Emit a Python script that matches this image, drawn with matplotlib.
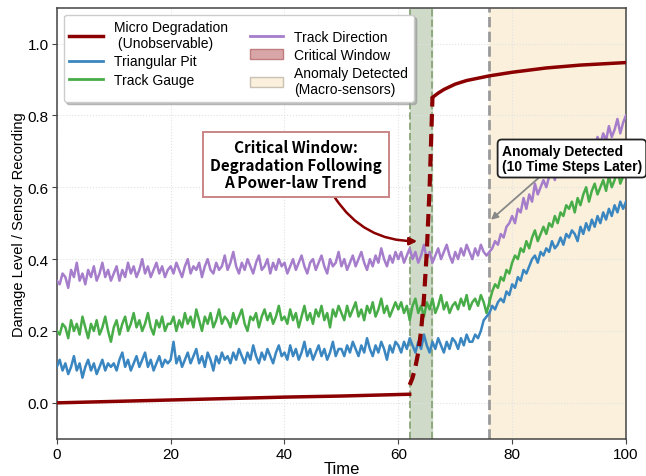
import numpy as np
import matplotlib.pyplot as plt
from matplotlib.patches import Patch
from matplotlib.lines import Line2D

plt.rcParams['font.family'] = ['Liberation Sans', 'DejaVu Sans']

# sensor recordings, one value every 0.5 time steps
track_direction = [
    0.34, 0.33, 0.36, 0.35, 0.32, 0.37, 0.35, 0.39, 0.34, 0.36, 0.33, 0.37, 0.35, 0.38, 0.34, 0.36, 0.39, 0.35, 0.37, 0.34,
    0.36, 0.38, 0.34, 0.37, 0.35, 0.39, 0.36, 0.38, 0.35, 0.37, 0.40, 0.36, 0.38, 0.35, 0.37, 0.39, 0.36, 0.38, 0.35, 0.37,
    0.38, 0.36, 0.39, 0.37, 0.35, 0.38, 0.40, 0.36, 0.38, 0.37, 0.39, 0.35, 0.38, 0.40, 0.37, 0.36, 0.39, 0.37, 0.38, 0.41,
    0.37, 0.39, 0.42, 0.38, 0.36, 0.39, 0.37, 0.40, 0.38, 0.36, 0.39, 0.41, 0.37, 0.38, 0.40, 0.36, 0.39, 0.37, 0.40, 0.38,
    0.39, 0.36, 0.38, 0.40, 0.37, 0.39, 0.41, 0.38, 0.36, 0.39, 0.40, 0.37, 0.39, 0.41, 0.38, 0.36, 0.40, 0.38, 0.39, 0.42,
    0.38, 0.40, 0.37, 0.39, 0.41, 0.38, 0.40, 0.42, 0.39, 0.37, 0.40, 0.38, 0.41, 0.39, 0.43, 0.40, 0.38, 0.41, 0.39, 0.42,
    0.40, 0.42, 0.39, 0.41, 0.43, 0.40, 0.42, 0.39, 0.41, 0.44, 0.40, 0.42, 0.39, 0.41, 0.43, 0.40, 0.42, 0.44, 0.41, 0.39,
    0.42, 0.40, 0.43, 0.41, 0.44, 0.42, 0.40, 0.43, 0.41, 0.44, 0.42, 0.41, 0.42, 0.43, 0.45, 0.44, 0.47, 0.46, 0.49, 0.50,
    0.52, 0.50, 0.54, 0.53, 0.57, 0.54, 0.58, 0.56, 0.61, 0.58, 0.60, 0.62, 0.60, 0.63, 0.65, 0.62, 0.66, 0.64, 0.67, 0.65,
    0.68, 0.66, 0.69, 0.71, 0.68, 0.70, 0.72, 0.69, 0.73, 0.71, 0.74, 0.72, 0.75, 0.73, 0.77, 0.74, 0.76, 0.79, 0.75, 0.78, 0.80,
]
track_gauge = [
    0.20, 0.19, 0.22, 0.21, 0.18, 0.23, 0.20, 0.22, 0.19, 0.24, 0.21, 0.18, 0.22, 0.20, 0.23, 0.19, 0.21, 0.24, 0.20, 0.17,
    0.21, 0.23, 0.19, 0.22, 0.24, 0.20, 0.22, 0.25, 0.21, 0.23, 0.20, 0.22, 0.25, 0.21, 0.19, 0.23, 0.21, 0.24, 0.20, 0.22,
    0.22, 0.24, 0.20, 0.23, 0.21, 0.25, 0.22, 0.24, 0.21, 0.26, 0.23, 0.20, 0.24, 0.22, 0.25, 0.21, 0.23, 0.26, 0.22, 0.24,
    0.23, 0.21, 0.25, 0.22, 0.24, 0.26, 0.22, 0.20, 0.24, 0.23, 0.25, 0.21, 0.24, 0.26, 0.23, 0.25, 0.22, 0.24, 0.27, 0.23,
    0.24, 0.22, 0.26, 0.23, 0.25, 0.21, 0.24, 0.27, 0.23, 0.25, 0.22, 0.26, 0.24, 0.27, 0.23, 0.25, 0.21, 0.26, 0.24, 0.27,
    0.25, 0.23, 0.27, 0.24, 0.26, 0.28, 0.24, 0.26, 0.23, 0.27, 0.25, 0.28, 0.24, 0.26, 0.29, 0.25, 0.27, 0.24, 0.26, 0.28,
    0.26, 0.28, 0.25, 0.27, 0.23, 0.27, 0.29, 0.25, 0.27, 0.24, 0.28, 0.26, 0.29, 0.25, 0.27, 0.30, 0.26, 0.28, 0.25, 0.27,
    0.28, 0.26, 0.29, 0.27, 0.30, 0.26, 0.28, 0.29, 0.27, 0.30, 0.28, 0.25, 0.28, 0.31, 0.33, 0.32, 0.35, 0.34, 0.37, 0.36,
    0.39, 0.41, 0.40, 0.43, 0.42, 0.45, 0.43, 0.46, 0.48, 0.45, 0.47, 0.49, 0.47, 0.50, 0.49, 0.52, 0.50, 0.53, 0.52, 0.55,
    0.54, 0.56, 0.53, 0.57, 0.55, 0.58, 0.60, 0.56, 0.59, 0.61, 0.58, 0.60, 0.62, 0.59, 0.63, 0.60, 0.62, 0.65, 0.61, 0.63, 0.64,
]
triangular_pit = [
    0.10, 0.12, 0.09, 0.11, 0.08, 0.10, 0.13, 0.09, 0.11, 0.07, 0.10, 0.12, 0.09, 0.11, 0.08, 0.10, 0.12, 0.09, 0.11, 0.10,
    0.11, 0.09, 0.12, 0.14, 0.10, 0.12, 0.09, 0.11, 0.13, 0.10, 0.12, 0.14, 0.10, 0.12, 0.09, 0.11, 0.13, 0.10, 0.12, 0.11,
    0.12, 0.17, 0.11, 0.13, 0.10, 0.12, 0.14, 0.11, 0.13, 0.15, 0.11, 0.13, 0.10, 0.14, 0.12, 0.09, 0.13, 0.11, 0.14, 0.12,
    0.13, 0.11, 0.14, 0.12, 0.15, 0.13, 0.11, 0.14, 0.12, 0.16, 0.13, 0.11, 0.14, 0.12, 0.15, 0.13, 0.11, 0.14, 0.16, 0.13,
    0.14, 0.12, 0.16, 0.13, 0.15, 0.12, 0.14, 0.17, 0.13, 0.15, 0.12, 0.14, 0.16, 0.13, 0.15, 0.12, 0.14, 0.17, 0.13, 0.15,
    0.15, 0.13, 0.16, 0.14, 0.17, 0.15, 0.13, 0.16, 0.14, 0.18, 0.15, 0.13, 0.16, 0.14, 0.17, 0.15, 0.12, 0.16, 0.14, 0.17,
    0.16, 0.14, 0.17, 0.15, 0.18, 0.16, 0.14, 0.17, 0.15, 0.19, 0.16, 0.14, 0.17, 0.15, 0.18, 0.16, 0.14, 0.17, 0.15, 0.18,
    0.17, 0.15, 0.18, 0.16, 0.19, 0.17, 0.17, 0.19, 0.18, 0.20, 0.23, 0.24, 0.25, 0.27, 0.26, 0.28, 0.29, 0.28, 0.31, 0.30,
    0.33, 0.32, 0.35, 0.34, 0.37, 0.36, 0.38, 0.40, 0.41, 0.39, 0.42, 0.41, 0.43, 0.42, 0.45, 0.43, 0.44, 0.46, 0.44, 0.47,
    0.46, 0.48, 0.47, 0.45, 0.49, 0.47, 0.50, 0.48, 0.51, 0.49, 0.52, 0.50, 0.53, 0.51, 0.54, 0.52, 0.55, 0.53, 0.56, 0.54, 0.56,
]

# hidden micro degradation curve
micro_t_before = [0, 10, 20, 30, 40, 50, 62]
micro_v_before = [0.0, 0.004, 0.008, 0.012, 0.016, 0.019, 0.024]
micro_t_window = [62, 62.5, 63, 63.5, 64, 64.5, 65, 65.5, 66]
micro_v_window = [0.05, 0.07, 0.10, 0.14, 0.20, 0.29, 0.42, 0.60, 0.85]
micro_t_after = [66, 67, 68, 70, 72, 76, 80, 86, 92, 100]
micro_v_after = [0.85, 0.862, 0.872, 0.887, 0.897, 0.91, 0.92, 0.932, 0.94, 0.947]

window_start, window_end = 62, 66
detect_time = 76

c_micro = '#8b0000'
c_pit = '#3a86c1'
c_gauge = '#48ad48'
c_dir = '#a57dcb'

fig = plt.figure(figsize=(6.46, 4.77), dpi=100)
ax = fig.add_axes([0.088, 0.078, 0.881, 0.904])

ax.axvspan(detect_time, 100, color='#faf0dc', zorder=0)
ax.axvspan(window_start, window_end, color='#cfdac9', zorder=1)
ax.axvline(window_start, color='#8fa97f', ls='--', lw=1.4, zorder=2)
ax.axvline(window_end, color='#8fa97f', ls='--', lw=1.4, zorder=2)
ax.axvline(detect_time, color='#9a9a9a', ls='--', lw=2, zorder=2)

t_dir = np.linspace(0, 100, len(track_direction))
t_gauge = np.linspace(0, 100, len(track_gauge))
t_pit = np.linspace(0, 100, len(triangular_pit))
ax.plot(t_dir, track_direction, color=c_dir, lw=1.8, zorder=3)
ax.plot(t_gauge, track_gauge, color=c_gauge, lw=1.8, zorder=3)
ax.plot(t_pit, triangular_pit, color=c_pit, lw=1.8, zorder=3)

ax.plot(micro_t_before, micro_v_before, color=c_micro, lw=2.5, zorder=4)
ax.plot(micro_t_window, micro_v_window, color=c_micro, lw=3, ls=(0, (3, 1.8)), zorder=4)
ax.plot(micro_t_after, micro_v_after, color=c_micro, lw=2.5, zorder=4)

ax.set_xlim(0, 100)
ax.set_ylim(-0.1, 1.1)
ax.set_xticks([0, 20, 40, 60, 80, 100])
ax.set_yticks([0.0, 0.2, 0.4, 0.6, 0.8, 1.0])
ax.grid(True, color='#e2e2e2', ls=':', lw=0.8, zorder=0)
ax.tick_params(labelsize=11, length=3.5, pad=2.5, color='#444444')
for s in ax.spines.values():
    s.set_color('#444444')
    s.set_linewidth(1.1)
ax.set_xlabel('Time', fontsize=12, labelpad=0)
ax.set_ylabel('Damage Level / Sensor Recording', fontsize=10.5, labelpad=1)

handles = [
    Line2D([], [], color=c_micro, lw=2.5),
    Line2D([], [], color=c_pit, lw=2),
    Line2D([], [], color=c_gauge, lw=2),
    Line2D([], [], color=c_dir, lw=2),
    Patch(facecolor='#d9a6a8', edgecolor='#c07c7e', lw=1),
    Patch(facecolor='#faf0dc', edgecolor='#c9c2b4', lw=1),
]
labels = ['Micro Degradation\n (Unobservable)', 'Triangular Pit', 'Track Gauge',
          'Track Direction', 'Critical Window', 'Anomaly Detected\n(Macro-sensors)']
leg = ax.legend(handles, labels, loc='upper left', ncol=2, fontsize=10,
                frameon=True, fancybox=True, shadow={'color': '0.6', 'alpha': 0.6},
                borderaxespad=0.5, handlelength=2.4, labelspacing=0.3,
                columnspacing=1.6, framealpha=1)
leg.get_frame().set_edgecolor('#cccccc')
leg.set_zorder(10)

ax.annotate('Critical Window:\nDegradation Following\nA Power-law Trend',
            xy=(63.8, 0.45), xytext=(42, 0.663), ha='center', va='center',
            fontsize=11, fontweight='bold', family=['Noto Sans CJK SC', 'DejaVu Sans'],
            linespacing=1.1,
            bbox=dict(boxstyle='square,pad=0.45', fc='white', ec='#c98585', lw=1.4),
            arrowprops=dict(arrowstyle='-|>', color=c_micro, lw=1.8,
                            connectionstyle='arc3,rad=0.3', shrinkA=0, shrinkB=2,
                            relpos=(0.7, 0.0)),
            zorder=6)

ax.annotate('Anomaly Detected\n(10 Time Steps Later)',
            xy=(76.1, 0.507), xytext=(90.5, 0.68), ha='center', va='center',
            multialignment='left',
            fontsize=10, fontweight='bold', linespacing=1.15, annotation_clip=False,
            bbox=dict(boxstyle='round,pad=0.3', fc='white', ec='#222222', lw=1.3),
            arrowprops=dict(arrowstyle='-|>', color='#888888', lw=1.3,
                            shrinkA=0, shrinkB=1, relpos=(0.3, 0.0)),
            zorder=6)

fig.savefig('out.png', dpi=100)
